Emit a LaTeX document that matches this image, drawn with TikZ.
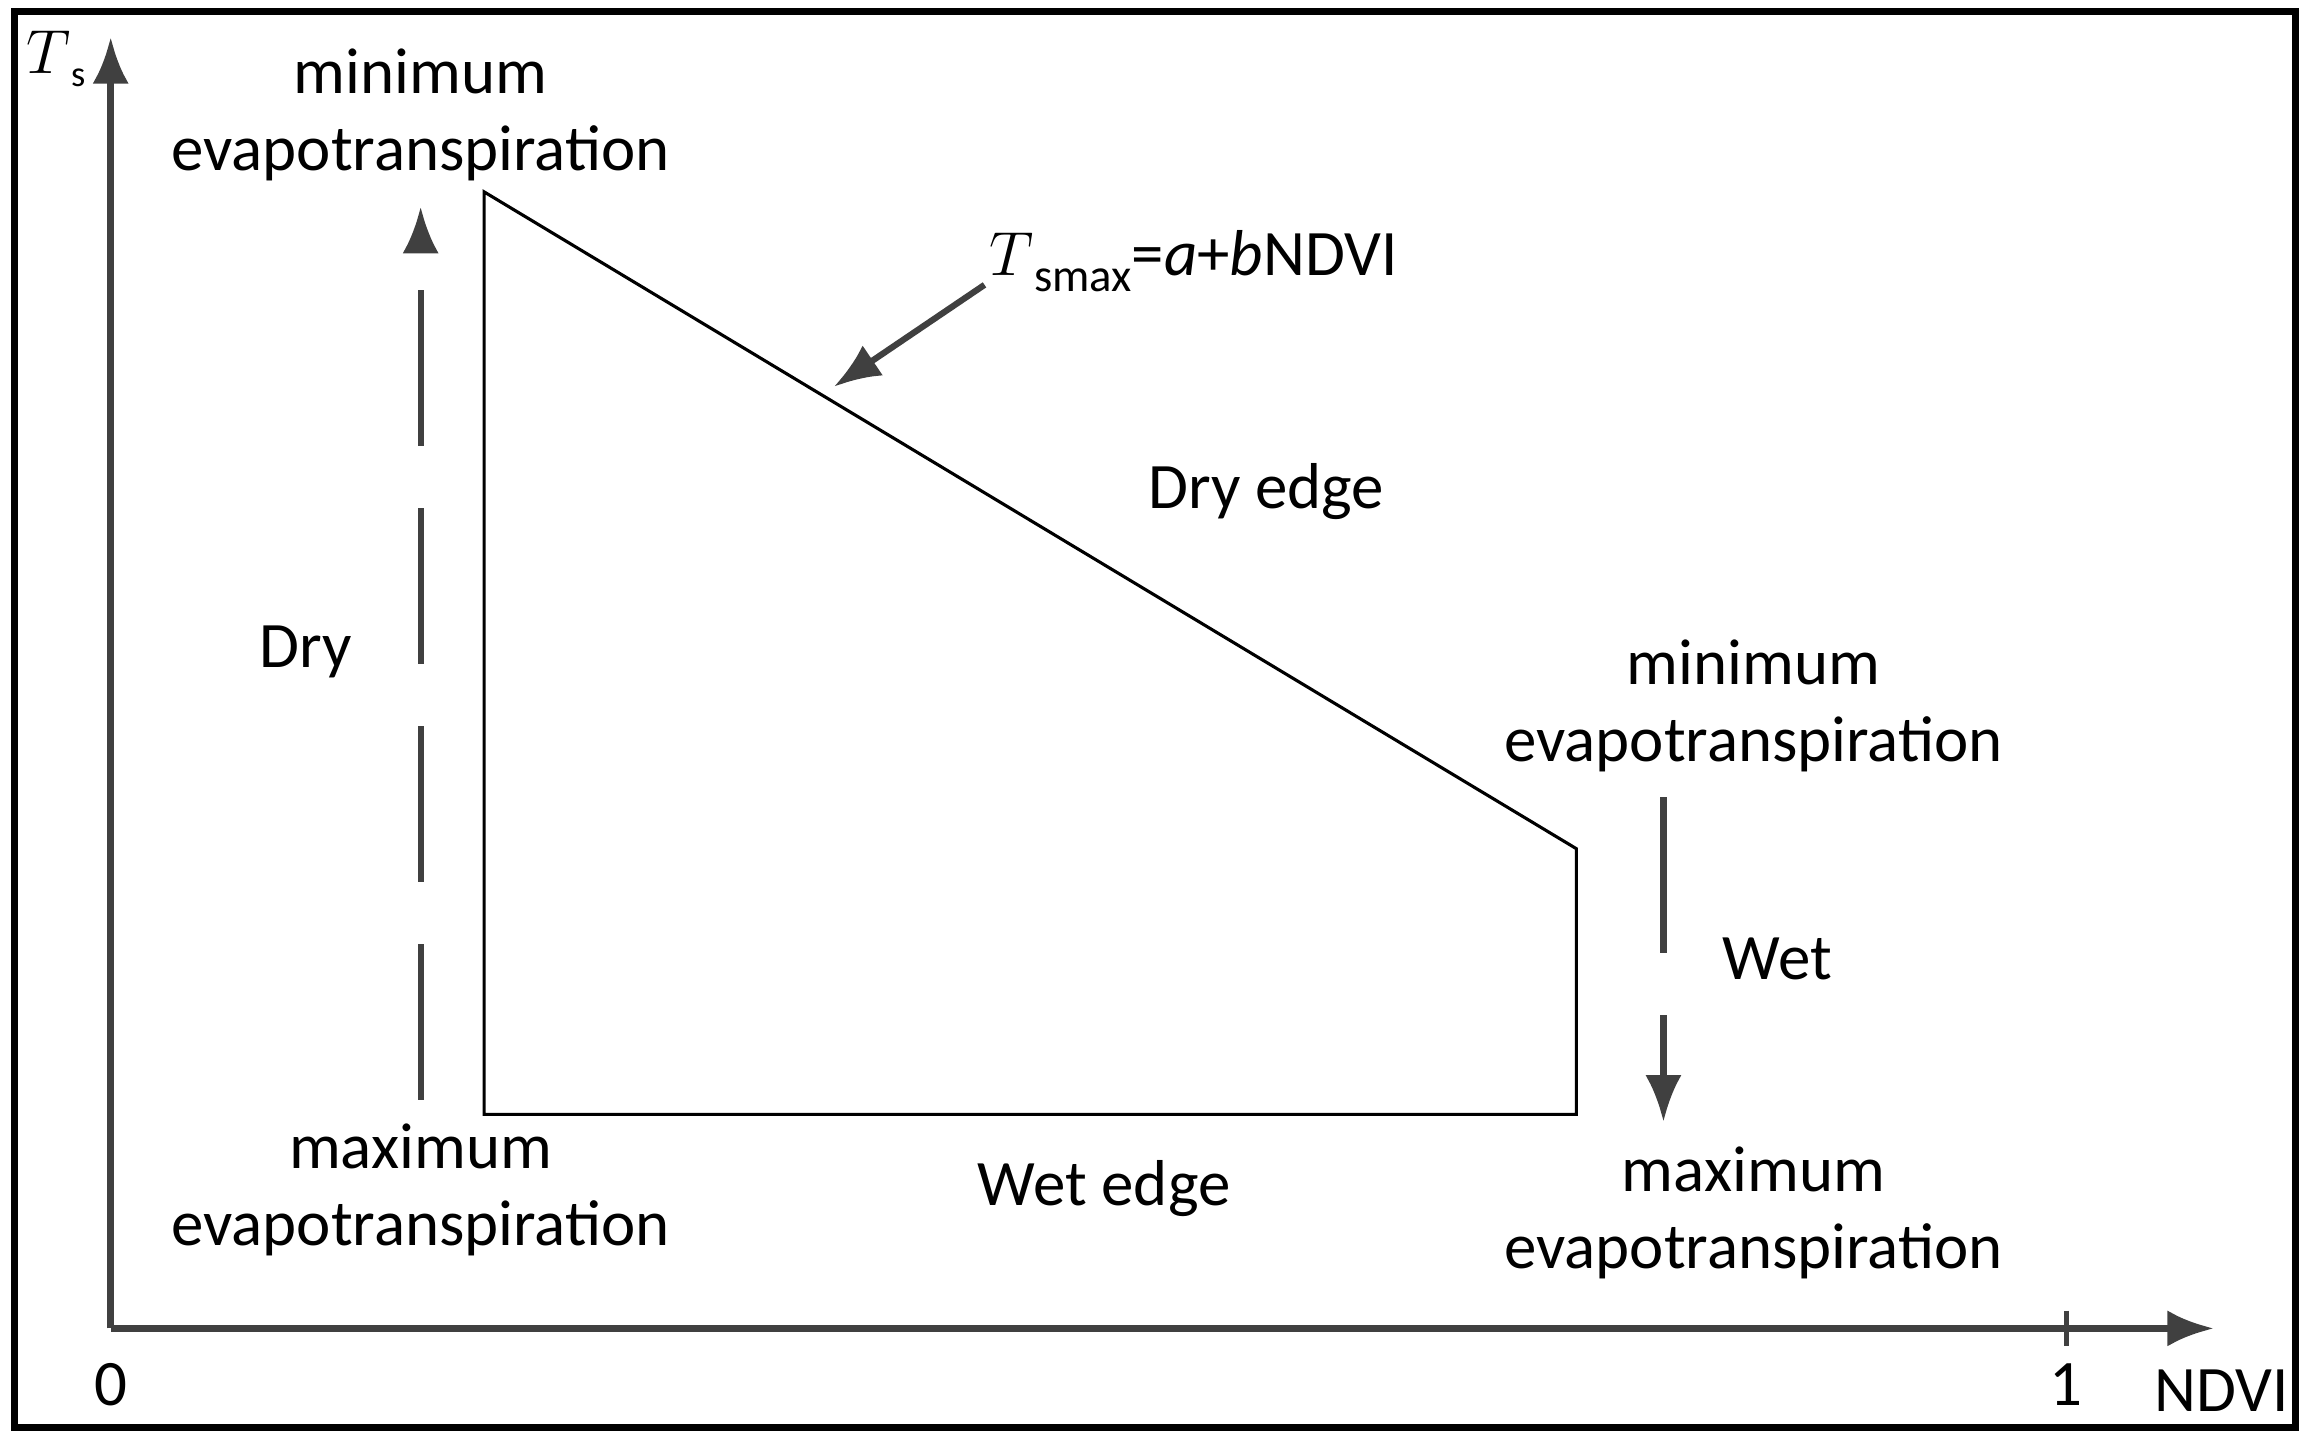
\documentclass[tikz,border=0pt]{standalone}
\usepackage{fontspec}
\setmainfont{Carlito}
\usetikzlibrary{arrows.meta}
\begin{document}
\begin{tikzpicture}[x=0.01cm,y=-0.01cm,
  lbl/.style={align=center,font=\fontsize{12.5}{14.8}\selectfont,inner sep=0pt},
  ax/.style={line width=1.4pt,draw=black!75,-{Latex[length=9pt,width=7pt]}},
  dsh/.style={line width=1.2pt,draw=black!75,dash pattern=on 30pt off 12pt,-{Latex[length=9pt,width=7pt]}}]
\useasboundingbox (0,0) rectangle (1563,973);
\draw[line width=1.4pt] (10,8) rectangle (1555,967);
\coordinate (O) at (75,900);
\coordinate (Y) at (75,25);
\coordinate (X) at (1500,900);
\draw[ax] (O) -- (Y);
\draw[ax] (O) -- (X);
\draw[line width=0.8pt,black!75] (1400,888) -- (1400,912);
\node[lbl] (zero) at (75,938) {0};
\node[lbl] (one) at (1400,938) {1};
\node[lbl] (ndvi) at (1505,942) {NDVI};
\node[lbl] (ts) at (38,40) {$T$\raisebox{-0.4ex}{\scriptsize s}};
\coordinate (A) at (328,130);
\coordinate (B) at (1068,575);
\coordinate (C) at (1068,755);
\coordinate (D) at (328,755);
\draw[line width=0.6pt] (A) -- (B) -- (C) -- (D) -- cycle;
\coordinate (l1) at (285,745); \coordinate (l2) at (285,140);
\draw[dsh] (l1) -- (l2);
\coordinate (r1) at (1127,540); \coordinate (r2) at (1127,760);
\draw[dsh] (r1) -- (r2);
\node[lbl] (minL) at (285,78) {minimum\\evapotranspiration};
\node[lbl] (maxL) at (285,806) {maximum\\evapotranspiration};
\node[lbl] (minR) at (1188,478) {minimum\\evapotranspiration};
\node[lbl] (maxR) at (1188,822) {maximum\\evapotranspiration};
\node[lbl] (dry) at (207,442) {Dry};
\node[lbl] (wet) at (1204,650) {Wet};
\node[lbl] (dryedge) at (858,333) {Dry edge};
\node[lbl] (wetedge) at (748,805) {Wet edge};
\node[lbl,anchor=west] (f) at (670,177) {$T$\raisebox{-0.5ex}{\small smax}=\textit{a}+\textit{b}NDVI};
\coordinate (fa) at (667,193); \coordinate (fb) at (565,262);
\draw[line width=1.2pt,black!75,-{Latex[length=9pt,width=7pt]}] (fa) -- (fb);
\end{tikzpicture}
\end{document}
